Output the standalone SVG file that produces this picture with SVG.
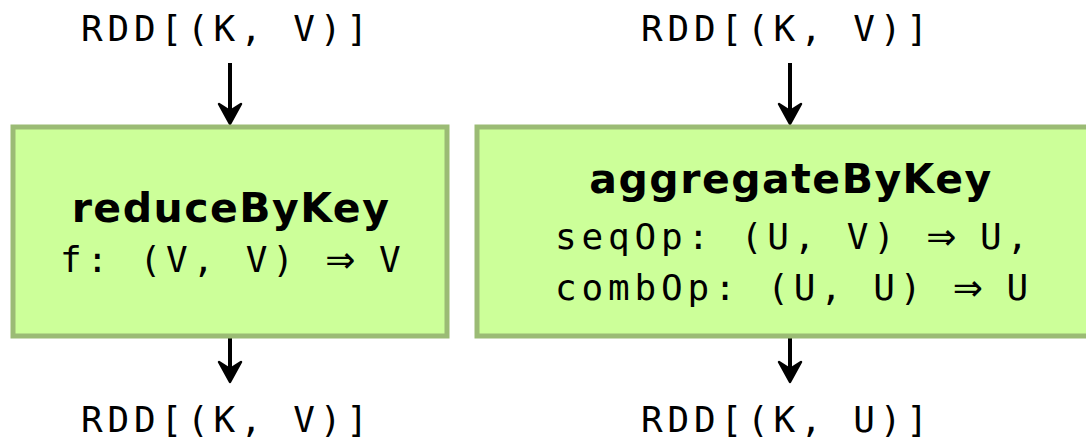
<svg xmlns="http://www.w3.org/2000/svg" width="1086" height="446" viewBox="0 0 1086 446">
<style>
.box{fill:#ccff99;stroke:#9bbb75;stroke-width:5;}
.mono{font-family:"DejaVu Sans Mono","Liberation Mono",monospace;font-size:36px;letter-spacing:4.85px;fill:#000;}
.arr{font-family:"DejaVu Sans",sans-serif;letter-spacing:-3px;}
.title{font-family:"DejaVu Sans",sans-serif;font-weight:bold;font-size:41px;letter-spacing:1.5px;fill:#000;}
.line{stroke:#000;stroke-width:4;fill:none;}
.head{fill:#000;stroke:#000;stroke-width:2.5;stroke-linejoin:round;}
</style>
<defs>
<path id="ah" class="head" d="M0,0 L-11,-20 L0,-13 L11,-20 Z"/>
</defs>
<rect width="1086" height="446" fill="#fff"/>
<g id="connectors">
<line class="line" x1="230" y1="63" x2="230" y2="118"/>
<use href="#ah" x="230" y="124"/>
<line class="line" x1="230" y1="338" x2="230" y2="376"/>
<use href="#ah" x="230" y="382"/>
<line class="line" x1="790" y1="63" x2="790" y2="118"/>
<use href="#ah" x="790" y="124"/>
<line class="line" x1="790" y1="338" x2="790" y2="376"/>
<use href="#ah" x="790" y="382"/>
</g>
<g id="in1"><text class="mono" x="81" y="41">RDD[(K, V)]</text></g>
<g id="in2"><text class="mono" x="641" y="41">RDD[(K, V)]</text></g>
<g id="reduceByKey">
<rect class="box" x="13" y="127" width="434" height="209"/>
<text class="title" x="231" y="222" text-anchor="middle">reduceByKey</text>
<text class="mono" x="60" y="272">f: (V, V) <tspan class="arr">⇒</tspan> V</text>
</g>
<g id="aggregateByKey">
<rect class="box" x="477" y="127" width="640" height="209"/>
<text class="title" x="791" y="193" text-anchor="middle">aggregateByKey</text>
<text class="mono" x="555" y="249">seqOp: (U, V) <tspan class="arr">⇒</tspan> U,</text>
<text class="mono" x="555" y="300">combOp: (U, U) <tspan class="arr">⇒</tspan> U</text>
</g>
<g id="out1"><text class="mono" x="81" y="432">RDD[(K, V)]</text></g>
<g id="out2"><text class="mono" x="641" y="432">RDD[(K, U)]</text></g>
</svg>
